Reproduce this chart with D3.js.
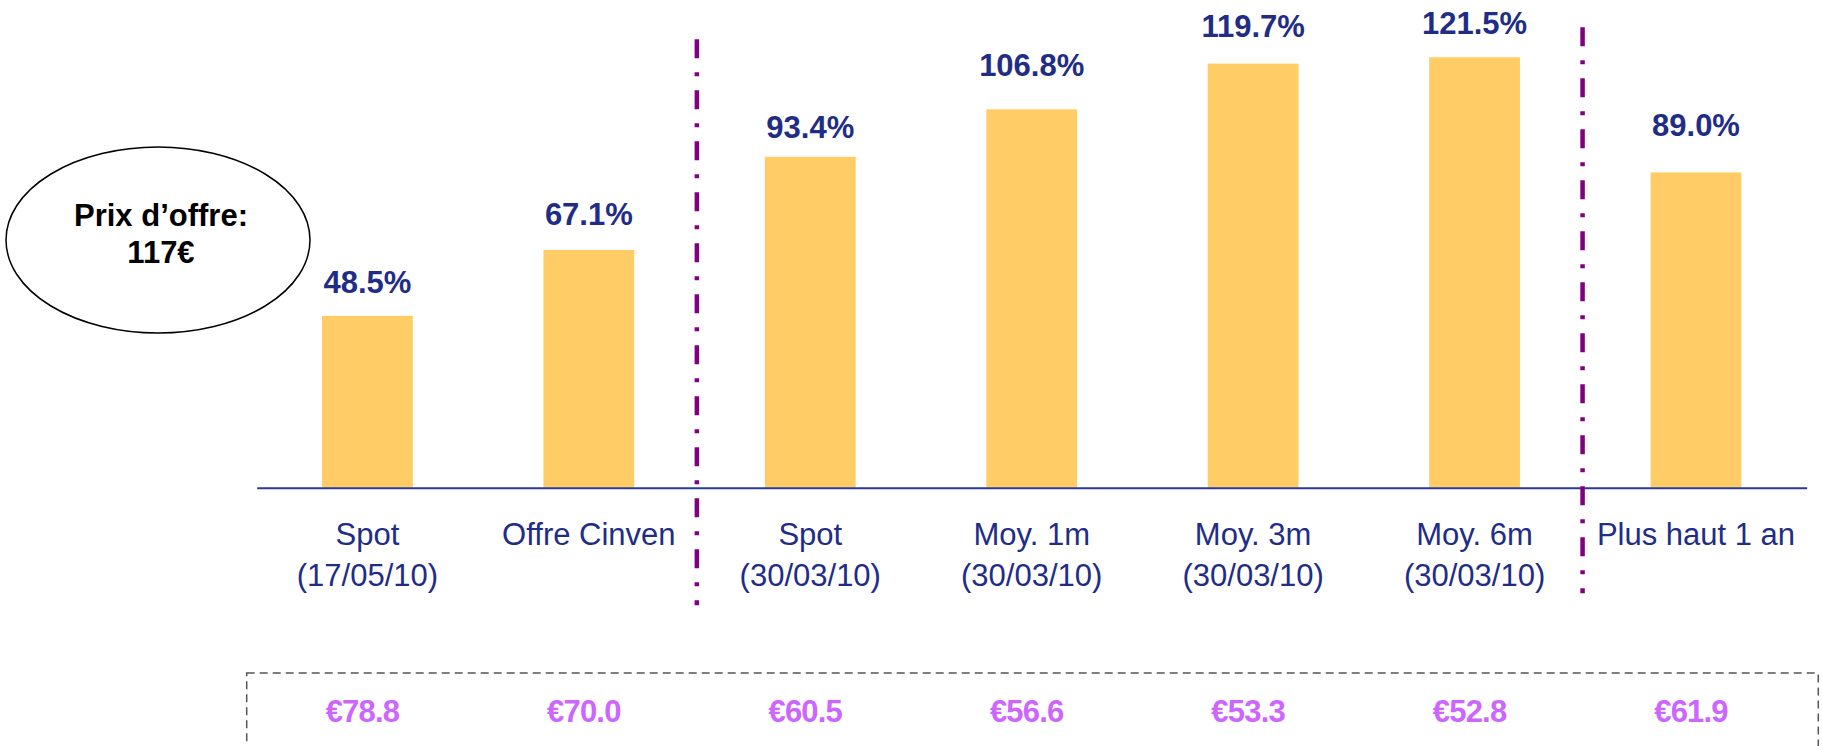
<!DOCTYPE html>
<html>
<head>
<meta charset="utf-8">
<script src="https://cdn.jsdelivr.net/npm/d3@7"></script>
<style>
  html, body { margin: 0; padding: 0; background: #fff; }
  svg { display: block; font-family: "Liberation Sans", Arial, sans-serif; }
</style>
</head>
<body>
<svg id="chart" width="1822" height="746"></svg>
<script>
// ---- data ----
const categories = ["Spot|(17/05/10)", "Offre Cinven", "Spot|(30/03/10)", "Moy. 1m|(30/03/10)", "Moy. 3m|(30/03/10)", "Moy. 6m|(30/03/10)", "Plus haut 1 an"];
const premiums = [48.5, 67.1, 93.4, 106.8, 119.7, 121.5, 89.0];
const prices = [78.8, 70.0, 60.5, 56.6, 53.3, 52.8, 61.9];
const separatorsAfter = [1, 5];
const offerLines = ["Prix d’offre:", "117€"];

// label gap above each bar (layout, as placed in the source slide)
const labelGap = [23, 25, 18.5, 33, 26.5, 23, 36];

// ---- chart ----
const svg = d3.select("#chart");
const baseY = 487.7;
const FONT = "'Liberation Sans', Arial, sans-serif";

const x = d3.scaleBand().domain(categories).range([256.7, 1806.7])
  .paddingInner(0.59).paddingOuter(0.295);
const y = d3.scaleLinear().domain([0, 137.66]).range([baseY, 0]);

// bars
svg.append("g").selectAll("rect").data(premiums).join("rect")
  .attr("x", (d, i) => x(categories[i]))
  .attr("y", d => y(d))
  .attr("width", x.bandwidth())
  .attr("height", d => baseY - y(d))
  .attr("fill", "#FFCC66");

// value labels
svg.append("g").selectAll("text").data(premiums).join("text")
  .attr("x", (d, i) => x(categories[i]) + x.bandwidth() / 2)
  .attr("y", (d, i) => y(d) - labelGap[i])
  .attr("text-anchor", "middle")
  .attr("font-size", 31)
  .attr("font-weight", "bold")
  .attr("fill", "#1F2D86")
  .text(d => d.toFixed(1) + "%");

// axis
const axis = svg.append("g")
  .attr("transform", `translate(0,${baseY})`)
  .call(d3.axisBottom(x).tickSize(0).tickSizeOuter(0).tickPadding(0));
axis.select(".domain").attr("stroke", "#2A3A96").attr("stroke-width", 2);
axis.selectAll(".tick text").each(function(d) {
  const t = d3.select(this);
  t.text(null)
    .attr("font-family", FONT)
    .attr("font-size", 31)
    .attr("fill", "#1F2D86")
    .attr("dy", null)
    .attr("y", 0);
  d.split("|").forEach((line, k) => {
    t.append("tspan").attr("x", 0).attr("y", 57 + k * 41).text(line);
  });
});

// separators
const sepTops = [39.3, 27.3];
separatorsAfter.forEach((idx, j) => {
  const xs = x(categories[idx + 1]) - x.step() * x.paddingInner() / 2 - 2.7;
  svg.append("line")
    .attr("x1", xs).attr("x2", xs)
    .attr("y1", sepTops[j]).attr("y2", sepTops[j] + 566)
    .attr("stroke", "#800080")
    .attr("stroke-width", 4.5)
    .attr("stroke-dasharray", "19,14,4,14");
});

// ellipse
svg.append("ellipse")
  .attr("cx", 158).attr("cy", 240).attr("rx", 152).attr("ry", 93)
  .attr("fill", "none").attr("stroke", "#000").attr("stroke-width", 1.5);
svg.append("g").selectAll("text").data(offerLines).join("text")
  .attr("x", 161)
  .attr("y", (d, i) => 226 + i * 37)
  .attr("text-anchor", "middle")
  .attr("font-size", 31)
  .attr("font-weight", "bold")
  .attr("fill", "#000")
  .text(d => d);

// price box
svg.append("rect")
  .attr("x", 246.7).attr("y", 673)
  .attr("width", 1571.6).attr("height", 120)
  .attr("fill", "none").attr("stroke", "#555")
  .attr("stroke-width", 1.5).attr("stroke-dasharray", "8,5");

svg.append("g").selectAll("text").data(prices).join("text")
  .attr("x", (d, i) => x(categories[i]) + x.bandwidth() / 2 - 5)
  .attr("y", 722.3)
  .attr("text-anchor", "middle")
  .attr("font-size", 31)
  .attr("font-weight", "bold")
  .attr("letter-spacing", -0.8)
  .attr("fill", "#CC66FF")
  .text(d => "€" + d.toFixed(1));
</script>
</body>
</html>
